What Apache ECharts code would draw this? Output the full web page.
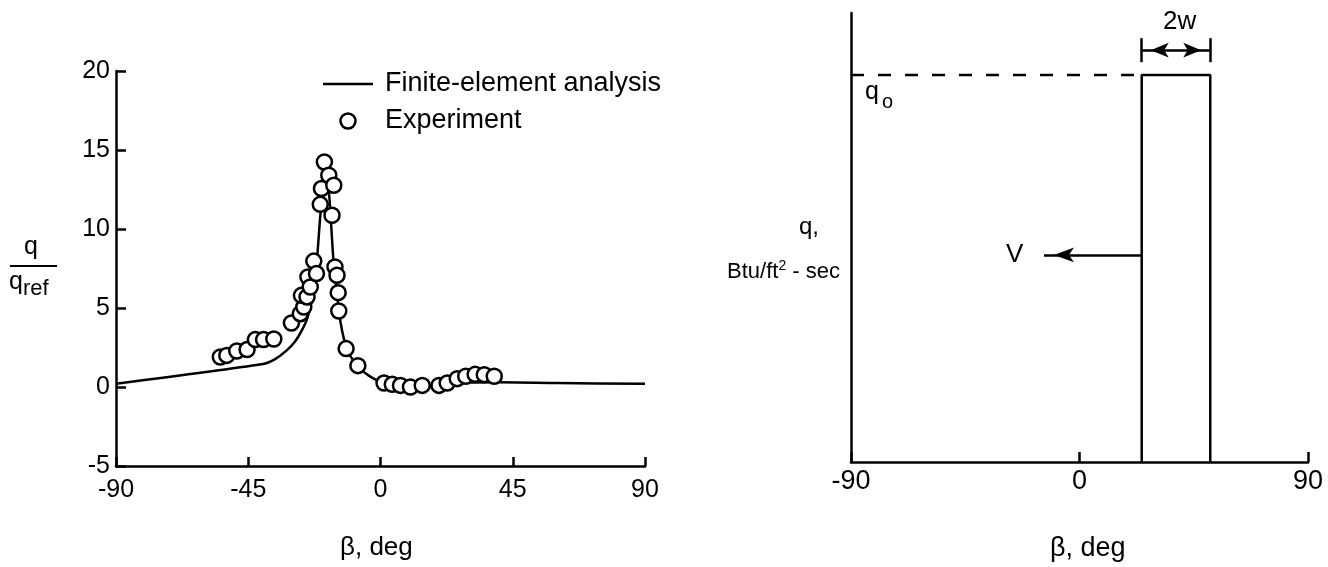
<!DOCTYPE html>
<html>
<head>
<meta charset="utf-8">
<script src="https://cdn.jsdelivr.net/npm/echarts@6/dist/echarts.min.js"></script>
<style>
  html, body { margin: 0; padding: 0; background: #fff; }
  #chart { width: 1328px; height: 567px; }
</style>
</head>
<body>
<div id="chart"></div>
<script>
// ---- Left panel: normalised heating rate q/q_ref against β (deg) ----
const feBeta = [-90, -40, -36, -32, -29, -27, -25, -23.5, -22, -20.5, -19.5, -18.5, -17.5, -17, -16, -15, -14, -13, -12, -11, -9.5, -8, -6, -4, -2, 0, 2, 5, 10, 15, 20, 25, 30, 40, 60, 90];
const feQ    = [0.2, 1.45, 1.75, 2.3, 2.9, 3.5, 4.3, 5.4, 7.2, 10.8, 12.6, 13.3, 12.2, 10.9, 8.0, 6.2, 4.6, 3.5, 2.75, 2.2, 1.75, 1.4, 1.0, 0.72, 0.5, 0.33, 0.22, 0.12, 0.06, 0.06, 0.1, 0.2, 0.28, 0.3, 0.25, 0.2];

const expBeta = [-54.5, -52.3, -48.9, -45.4, -42.6, -39.8, -36.3, -30.3, -27.3, -26.1, -26.9, -25.0, -24.7, -23.9, -22.7, -21.8, -20.5, -20.1, -19.1, -17.6, -15.9, -16.5, -15.5, -14.8, -14.4, -14.2, -11.7, -7.7, 1.2, 4.0, 6.8, 10.2, 14.2, 19.9, 22.7, 26.1, 29.0, 32.2, 35.3, 38.7];
const expQ    = [1.9, 2.0, 2.28, 2.37, 3.0, 3.0, 3.04, 4.05, 4.64, 5.06, 5.8, 5.7, 6.96, 6.33, 7.97, 7.18, 11.56, 12.56, 14.24, 13.4, 12.77, 10.87, 7.6, 7.07, 5.97, 4.81, 2.43, 1.35, 0.25, 0.17, 0.1, 0.0, 0.1, 0.1, 0.25, 0.53, 0.68, 0.8, 0.78, 0.68];

const leftXTicks = { min: -90, max: 90, step: 45 };
const leftYTicks = { min: -5, max: 20, step: 5 };

// ---- Right panel: rectangular heat pulse of width 2w moving with speed V ----
const pulseBeta = [24.5, 24.5, 51.5, 51.5];
const pulseQ    = [0, 1, 1, 0];
const q0Level   = 1;
const q0Beta    = [-90, 24.5];
const widthMarkQ = [1.033, 1.095];   // extent of the 2w extension lines
const widthArrowQ = 1.064;           // height of the 2w dimension arrow
const velocityQ = 0.535;             // height of the V arrow
const velocityBeta = [24.5, -14];    // V arrow: from pulse edge to arrow tip
const rightXTicks = { min: -90, max: 90, step: 90 };

const FONT = '"Liberation Sans", Arial, Helvetica, sans-serif';
const INK = '#000';

const chart = echarts.init(document.getElementById('chart'), null, { renderer: 'canvas' });

const axisLine = { show: true, onZero: false, lineStyle: { color: INK, width: 2.5 } };

const option = {
  backgroundColor: '#fff',
  animation: false,
  textStyle: { fontFamily: FONT, color: INK },
  grid: [
    { left: 116, right: 683, top: 71, bottom: 101 },
    { left: 851, right: 20, top: 13, bottom: 105 }
  ],
  xAxis: [
    {
      gridIndex: 0, type: 'value',
      min: leftXTicks.min, max: leftXTicks.max, interval: leftXTicks.step,
      axisLine: axisLine,
      axisTick: { show: true, inside: true, length: 9, lineStyle: { color: INK, width: 2.5 } },
      axisLabel: { margin: 12, fontSize: 25, color: INK, fontFamily: FONT },
      splitLine: { show: false }
    },
    {
      gridIndex: 1, type: 'value',
      min: rightXTicks.min, max: rightXTicks.max, interval: rightXTicks.step,
      axisLine: axisLine,
      axisTick: { show: true, inside: true, length: 10, lineStyle: { color: INK, width: 2.5 } },
      axisLabel: { margin: 6, fontSize: 27, color: INK, fontFamily: FONT },
      splitLine: { show: false }
    }
  ],
  yAxis: [
    {
      gridIndex: 0, type: 'value',
      min: leftYTicks.min, max: leftYTicks.max, interval: leftYTicks.step,
      axisLine: axisLine,
      axisTick: { show: true, inside: true, length: 10, lineStyle: { color: INK, width: 2.5 } },
      axisLabel: { margin: 6, fontSize: 25, color: INK, fontFamily: FONT },
      splitLine: { show: false }
    },
    {
      gridIndex: 1, type: 'value', min: 0, max: 1.16,
      axisLine: axisLine,
      axisTick: { show: false },
      axisLabel: { show: false },
      splitLine: { show: false }
    }
  ],
  legend: {
    data: [
      { name: 'Finite-element analysis', icon: 'path://M0,0 H50 V2.5 H0 Z' },
      { name: 'Experiment', icon: 'circle' }
    ],
    left: 323, top: 69, padding: 0, orient: 'vertical',
    itemWidth: 50, itemHeight: 15, itemGap: 7,
    itemStyle: { borderWidth: 2.5 },
    textStyle: { fontSize: 27, lineHeight: 30, color: INK, fontFamily: FONT, padding: [0, 0, 0, 7] },
    selectedMode: false
  },
  series: [
    {
      name: 'Finite-element analysis', type: 'line',
      xAxisIndex: 0, yAxisIndex: 0,
      data: feBeta.map((b, i) => [b, feQ[i]]),
      symbol: 'none', smooth: 0.25,
      lineStyle: { color: INK, width: 2.5 },
      itemStyle: { color: INK, borderWidth: 0 },
      z: 2
    },
    {
      name: 'Experiment', type: 'scatter',
      xAxisIndex: 0, yAxisIndex: 0,
      data: expBeta.map((b, i) => [b, expQ[i]]),
      symbol: 'circle', symbolSize: 15,
      itemStyle: { color: '#fff', borderColor: INK, borderWidth: 2.5, opacity: 1 },
      z: 3
    },
    {
      name: 'pulse', type: 'line',
      xAxisIndex: 1, yAxisIndex: 1,
      data: pulseBeta.map((b, i) => [b, pulseQ[i]]),
      symbol: 'none',
      lineStyle: { color: INK, width: 2.5 },
      markLine: {
        silent: true,
        symbol: 'none',
        animation: false,
        label: { show: false },
        lineStyle: { color: INK, width: 2.5, type: 'solid' },
        data: [
          [{ coord: [pulseBeta[1], widthMarkQ[0]] }, { coord: [pulseBeta[1], widthMarkQ[1]] }],
          [{ coord: [pulseBeta[2], widthMarkQ[0]] }, { coord: [pulseBeta[2], widthMarkQ[1]] }],
          [
            { coord: [pulseBeta[1], widthArrowQ], symbol: 'arrow', symbolSize: [11, 18], symbolOffset: [0, '50%'] },
            { coord: [pulseBeta[2], widthArrowQ], symbol: 'arrow', symbolSize: [11, 18], symbolOffset: [0, '50%'] }
          ],
          [
            { coord: [velocityBeta[0], velocityQ], symbol: 'none' },
            { coord: [velocityBeta[1], velocityQ], symbol: 'arrow', symbolSize: [11, 20], symbolOffset: [0, '50%'] }
          ]
        ]
      },
      z: 2
    },
    {
      name: 'q0', type: 'line',
      xAxisIndex: 1, yAxisIndex: 1,
      data: q0Beta.map(b => [b, q0Level]),
      symbol: 'none',
      lineStyle: { color: INK, width: 2.5, type: [13, 14] },
      z: 2
    }
  ],
  graphic: [
    // q / q_ref label of the left axis
    { type: 'text', left: 24, top: 235, style: { text: 'q', font: '25px ' + FONT, fill: INK } },
    { type: 'line', shape: { x1: 10, y1: 266, x2: 57, y2: 266 }, style: { stroke: INK, lineWidth: 2 } },
    { type: 'text', left: 9, top: 270, style: { text: 'q', font: '25px ' + FONT, fill: INK } },
    { type: 'text', left: 23, top: 278, style: { text: 'ref', font: '22px ' + FONT, fill: INK } },
    { type: 'text', left: 340, top: 535, style: { text: 'β, deg', font: '26px ' + FONT, fill: INK } },

    // right panel labels
    { type: 'text', left: 799, top: 215, style: { text: 'q,', font: '24px ' + FONT, fill: INK } },
    {
      type: 'text', right: 1328 - 840, top: 259,
      style: {
        text: '{a|Btu/ft}{s|2}{a| - sec}',
        fill: INK,
        rich: {
          a: { fontSize: 22, fontFamily: FONT, fill: INK },
          s: { fontSize: 14, fontFamily: FONT, fill: INK, padding: [0, 0, 11, 0] }
        }
      }
    },
    { type: 'text', left: 865, top: 80, style: { text: 'q', font: '25px ' + FONT, fill: INK } },
    { type: 'text', left: 882, top: 92, style: { text: 'o', font: '20px ' + FONT, fill: INK } },
    { type: 'text', left: 1006, top: 242, style: { text: 'V', font: '26px ' + FONT, fill: INK } },
    { type: 'text', left: 1163, top: 9, style: { text: '2w', font: '26px ' + FONT, fill: INK } },
    { type: 'text', left: 1050, top: 535, style: { text: 'β, deg', font: '27px ' + FONT, fill: INK } }
  ]
};

chart.setOption(option);
</script>
</body>
</html>
